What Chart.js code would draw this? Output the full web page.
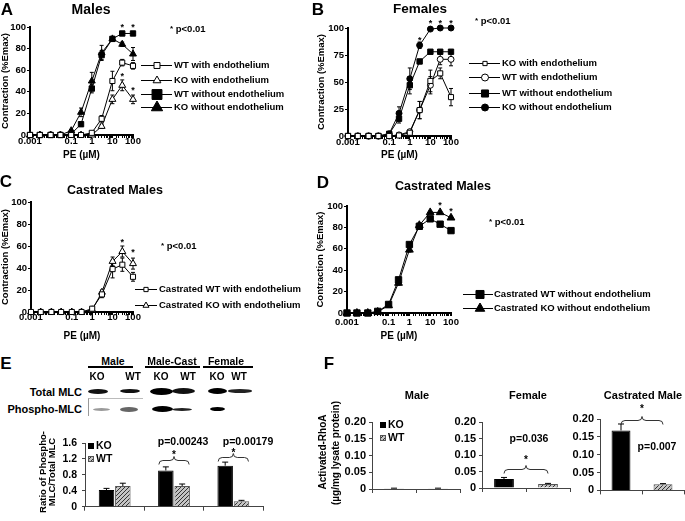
<!DOCTYPE html>
<html>
<head>
<meta charset="utf-8">
<script src="https://cdn.jsdelivr.net/npm/chart.js@4.4.1/dist/chart.umd.min.js"></script>
<style>
html,body{margin:0;padding:0;background:#fff;}
body{position:relative;width:685px;height:521px;overflow:hidden;font-family:"Liberation Sans",Arial,sans-serif;font-weight:bold;color:#000;}
canvas{position:absolute;}
.t{position:absolute;white-space:nowrap;line-height:1;transform:translate(-50%,-50%);}
.l{transform:translate(0,-50%);}
.r{transform:translate(-100%,-50%);}
.vt{transform:translate(-50%,-50%) rotate(-90deg);}
.letter{font-size:17px;}
.band{position:absolute;border-radius:50%;filter:blur(0.6px);}
.rule{position:absolute;height:2px;background:#000;}
.star{font-size:8px;vertical-align:1px;}
</style>
</head>
<body>

<canvas id="cA" width="300" height="165" style="left:0;top:0"></canvas>
<canvas id="cB" width="369" height="165" style="left:316px;top:0"></canvas>
<canvas id="cC" width="320" height="175" style="left:0;top:170px"></canvas>
<canvas id="cD" width="370" height="175" style="left:315px;top:170px"></canvas>
<canvas id="cE" width="275" height="98" style="left:0;top:420px"></canvas>
<canvas id="cF1" width="150" height="120" style="left:315px;top:380px"></canvas>
<canvas id="cF2" width="135" height="120" style="left:440px;top:380px"></canvas>
<canvas id="cF3" width="125" height="120" style="left:560px;top:380px"></canvas>

<div class="t letter" style="left:7px;top:9px">A</div>
<div class="t" style="left:91px;top:9px;font-size:14px">Males</div>
<div class="t letter" style="left:318px;top:9px">B</div>
<div class="t" style="left:420px;top:9px;font-size:13.5px">Females</div>
<div class="t letter" style="left:6px;top:181px">C</div>
<div class="t" style="left:115px;top:190px;font-size:12.5px">Castrated Males</div>
<div class="t letter" style="left:323px;top:182px">D</div>
<div class="t" style="left:443px;top:186px;font-size:12.5px">Castrated Males</div>
<div class="t letter" style="left:6px;top:363px">E</div>
<div class="t letter" style="left:329px;top:363px">F</div>

<div class="t l" style="left:170px;top:29px;font-size:9.5px"><span class="star">*</span> p&lt;0.01</div>
<div class="t l" style="left:475px;top:21px;font-size:9.5px"><span class="star">*</span> p&lt;0.01</div>
<div class="t l" style="left:161px;top:246px;font-size:9.5px"><span class="star">*</span> p&lt;0.01</div>
<div class="t l" style="left:489px;top:222px;font-size:9.5px"><span class="star">*</span> p&lt;0.01</div>

<!-- western blot -->
<div class="t" style="left:113px;top:361px;font-size:10.5px">Male</div>
<div class="t" style="left:172px;top:361px;font-size:10.5px">Male-Cast</div>
<div class="t" style="left:226px;top:361px;font-size:10.5px">Female</div>
<div class="rule" style="left:88px;top:366px;width:45px"></div>
<div class="rule" style="left:145px;top:366px;width:55px"></div>
<div class="rule" style="left:203px;top:366px;width:50px"></div>
<div class="t" style="left:97px;top:377px;font-size:10px">KO</div>
<div class="t" style="left:133px;top:377px;font-size:10px">WT</div>
<div class="t" style="left:161px;top:377px;font-size:10px">KO</div>
<div class="t" style="left:188px;top:377px;font-size:10px">WT</div>
<div class="t" style="left:217px;top:377px;font-size:10px">KO</div>
<div class="t" style="left:239px;top:377px;font-size:10px">WT</div>
<div class="t r" style="left:82px;top:392px;font-size:11px">Total MLC</div>
<div class="t r" style="left:82px;top:409px;font-size:11px">Phospho-MLC</div>
<div id="blot"></div>

<div class="t vt" style="left:43px;top:472px;font-size:9.5px">Ratio of Phospho-</div>
<div class="t vt" style="left:52px;top:472px;font-size:9.5px">MLC/Total MLC</div>
<div class="t" style="left:183px;top:441px;font-size:10.5px">p=0.00243</div>
<div class="t" style="left:248px;top:441px;font-size:10.5px">p=0.00179</div>

<div class="t vt" style="left:323px;top:452px;font-size:10px">Activated-RhoA</div>
<div class="t vt" style="left:336px;top:453px;font-size:10px">(µg/mg lysate protein)</div>
<div class="t" style="left:417px;top:395px;font-size:11px">Male</div>
<div class="t" style="left:528px;top:395px;font-size:11px">Female</div>
<div class="t" style="left:643px;top:395px;font-size:11px">Castrated Male</div>
<div class="t" style="left:529px;top:438px;font-size:10.5px">p=0.036</div>
<div class="t" style="left:657px;top:446px;font-size:10.5px">p=0.007</div>

<script>
// PE doses (µM) and the labelled x ticks
const doses = [0.001, 0.003, 0.01, 0.03, 0.1, 0.3, 1, 3, 10, 30, 100];
const doseTicks = [0.001, 0.1, 1, 10, 100];

// A - males
const aWtWith       = [0, 0, 0, 0, 0, 0, 2, 15, 50, 67, 64];
const aKoWith       = [0, 0, 0, 0, 0, 0, 0, 8, 33, 46, 33];
const aWtWithout    = [0, 0, 0, 0, 1, 10, 43, 74, 89, 94, 94];
const aKoWithout    = [0, 0, 0, 0, 4, 21, 50, 76, 89, 84, 75];
const aWtWithErr    = [0, 0, 0, 0, 0, 0, 1, 3, 9, 3, 3];
const aKoWithErr    = [0, 0, 0, 0, 0, 0, 0, 2, 4, 5, 4];
const aWtWithoutErr = [0, 0, 0, 0, 0, 2, 4, 4, 2, 1, 1];
const aKoWithoutErr = [0, 0, 0, 0, 1, 4, 8, 7, 2, 2, 6];
const aStars = [[30, 101], [100, 101], [30, 56], [100, 43]];

// B - females
const bKoWith       = [0, 0, 0, 0, 0, 0.5, 3, 24, 51, 58, 36];
const bWtWith       = [0, 0, 0, 0, 0, 1, 4, 24, 47, 71, 71];
const bWtWithout    = [0, 0, 0, 0, 2, 16, 47, 69, 78, 78, 78];
const bKoWithout    = [0, 0, 0, 0, 2, 21, 53, 84, 99, 100, 100];
const bKoWithErr    = [0, 0, 0, 0, 0, 0, 2, 8, 10, 5, 8];
const bWtWithErr    = [0, 0, 0, 0, 0, 0, 1, 8, 8, 5, 6];
const bWtWithoutErr = [0, 0, 0, 0, 0, 4, 8, 2, 1, 1, 1];
const bKoWithoutErr = [0, 0, 0, 0, 0, 6, 10, 3, 1, 1, 1];
const bStars = [[3, 90], [10, 106], [30, 106], [100, 106]];

// C - castrated males, with endothelium
const cWtWith    = [0, 0, 0, 0, 0, 0, 3, 16, 39, 43, 32];
const cKoWith    = [0, 0, 0, 0, 0, 0, 2, 18, 46, 55, 44];
const cWtWithErr = [0, 0, 0, 0, 0, 0, 1, 3, 8, 6, 4];
const cKoWithErr = [0, 0, 0, 0, 0, 0, 1, 2, 4, 5, 5];
const cStars = [[30, 65], [100, 56]];

// D - castrated males, without endothelium
const dWtWithout    = [0, 0, 0, 1.5, 8, 31, 64, 81, 88, 83, 77];
const dKoWithout    = [0, 0, 0, 1, 7, 28, 59, 82, 94, 94, 89];
const dWtWithoutErr = [0, 0, 0, 0, 1, 2, 2, 2, 2, 2, 2];
const dKoWithoutErr = [0, 0, 0, 0, 1, 2, 2, 2, 1, 1, 1];
const dStars = [[30, 102], [100, 97]];

// E - phospho-MLC / total MLC
const eGroups = ['Male', 'Male-Cast', 'Female'];
const eKO    = [0.42, 0.91, 1.03];
const eWT    = [0.52, 0.52, 0.14];
const eKOErr = [0.04, 0.09, 0.09];
const eWTErr = [0.07, 0.05, 0.02];

// F - activated RhoA
const fGroups = ['Male', 'Female', 'Castrated Male'];
const fKO    = [0.002, 0.027, 0.168];
const fWT    = [0.002, 0.012, 0.017];
const fKOErr = [0.0005, 0.005, 0.018];
const fWTErr = [0.0005, 0.002, 0.002];

Chart.defaults.font.family = '"Liberation Sans", Arial, sans-serif';
Chart.defaults.font.weight = 'bold';
Chart.defaults.font.size = 10;
Chart.defaults.color = '#000';
Chart.defaults.animation = false;
Chart.defaults.responsive = false;
Chart.defaults.plugins.legend.display = false;
Chart.defaults.plugins.tooltip.enabled = false;

const FONT = '"Liberation Sans", Arial, sans-serif';

function marker(ctx, style, x, y, r, fill) {
  ctx.beginPath();
  if (style === 'rect') {
    const h = r * Math.SQRT1_2;
    ctx.rect(x - h, y - h, 2 * h, 2 * h);
  } else if (style === 'triangle') {
    ctx.moveTo(x, y - r);
    ctx.lineTo(x + r * 0.866, y + r * 0.5);
    ctx.lineTo(x - r * 0.866, y + r * 0.5);
    ctx.closePath();
  } else {
    ctx.arc(x, y, r, 0, Math.PI * 2);
  }
  ctx.fillStyle = fill;
  ctx.fill();
  ctx.strokeStyle = '#000';
  ctx.lineWidth = 1;
  ctx.stroke();
}

function drawErrors(chart, after) {
  const ctx = chart.ctx, ys = chart.scales.y;
  chart.data.datasets.forEach((ds, di) => {
    if (!ds.errors || !!ds.upOnly !== after) return;
    const meta = chart.getDatasetMeta(di);
    ds.errors.forEach((e, i) => {
      const d = ds.data[i];
      const v = d !== null && typeof d === 'object' ? d.y : d;
      if (!e || v === null || v === undefined) return;
      const x = meta.data[i].x;
      const top = ys.getPixelForValue(v + e);
      const bot = after ? ys.getPixelForValue(v) : ys.getPixelForValue(Math.max(v - e, 0));
      const cap = ds.cap || 2;
      ctx.save();
      ctx.strokeStyle = '#000';
      ctx.lineWidth = 1;
      ctx.beginPath();
      ctx.moveTo(x, top); ctx.lineTo(x, bot);
      ctx.moveTo(x - cap, top); ctx.lineTo(x + cap, top);
      if (!after) { ctx.moveTo(x - cap, bot); ctx.lineTo(x + cap, bot); }
      ctx.stroke();
      ctx.restore();
    });
  });
}

const errorBars = {
  id: 'errorBars',
  beforeDatasetsDraw(chart) { drawErrors(chart, false); },
  afterDatasetsDraw(chart) { drawErrors(chart, true); }
};

function starPlugin(points) {
  return {
    id: 'stars',
    afterDatasetsDraw(chart) {
      const ctx = chart.ctx, xs = chart.scales.x, ys = chart.scales.y;
      ctx.save();
      ctx.font = 'bold 9px ' + FONT;
      ctx.textAlign = 'center';
      ctx.textBaseline = 'middle';
      ctx.fillStyle = '#000';
      points.forEach(p => ctx.fillText('*', xs.getPixelForValue(p[0]), ys.getPixelForValue(p[1]) + 2));
      ctx.restore();
    }
  };
}

function linePlugin(lg) {
  return {
    id: 'lineLegend',
    afterDraw(chart) {
      const ctx = chart.ctx;
      ctx.save();
      ctx.font = 'bold 9.5px ' + FONT;
      ctx.textBaseline = 'middle';
      lg.rows.forEach(row => {
        const ds = chart.data.datasets[row.ds];
        const y = row.y + 0.5;
        ctx.strokeStyle = '#000';
        ctx.lineWidth = 1;
        ctx.beginPath(); ctx.moveTo(lg.x1, y); ctx.lineTo(lg.x2, y); ctx.stroke();
        marker(ctx, ds.pointStyle, lg.mx, y, row.r, ds.pointBackgroundColor);
        ctx.fillStyle = '#000';
        ctx.fillText(ds.label, lg.tx, y);
      });
      ctx.restore();
    }
  };
}

function boxLegend(items) {
  return {
    id: 'boxLegend',
    afterDraw(chart) {
      const ctx = chart.ctx;
      ctx.save();
      ctx.font = 'bold 10.5px ' + FONT;
      ctx.textBaseline = 'middle';
      items.forEach(it => {
        const ds = chart.data.datasets[it.ds];
        ctx.fillStyle = ds.backgroundColor;
        ctx.fillRect(it.x, it.y, 6, 6);
        ctx.strokeStyle = ds.borderColor;
        ctx.lineWidth = 1;
        ctx.strokeRect(it.x + 0.5, it.y + 0.5, 5, 5);
        ctx.fillStyle = '#000';
        ctx.fillText(ds.label, it.x + 8, it.y + 3.5);
      });
      ctx.restore();
    }
  };
}

function bracketPlugin(list, pad) {
  return {
    id: 'brackets',
    afterDatasetsDraw(chart) {
      const ctx = chart.ctx, ys = chart.scales.y;
      ctx.save();
      ctx.strokeStyle = '#333';
      ctx.lineWidth = 1;
      ctx.font = 'bold 10px ' + FONT;
      ctx.textAlign = 'center';
      ctx.textBaseline = 'middle';
      ctx.fillStyle = '#000';
      list.forEach(b => {
        const ea = chart.getDatasetMeta(b.a[0]).data[b.a[1]];
        const eb = chart.getDatasetMeta(b.b[0]).data[b.b[1]];
        const x1 = ea.x - pad * ea.width, x2 = eb.x + pad * eb.width;
        const y = Math.round(ys.getPixelForValue(b.y)) + 0.5, xm = (x1 + x2) / 2, h = 4;
        ctx.beginPath();
        ctx.moveTo(x1, y + h);
        ctx.quadraticCurveTo(x1, y, x1 + h, y);
        ctx.lineTo(xm - h, y);
        ctx.quadraticCurveTo(xm, y, xm, y - h);
        ctx.quadraticCurveTo(xm, y, xm + h, y);
        ctx.lineTo(x2 - h, y);
        ctx.quadraticCurveTo(x2, y, x2, y + h);
        ctx.stroke();
        ctx.fillText('*', xm, ys.getPixelForValue(b.star) + 2);
      });
      ctx.restore();
    }
  };
}

function hatch(ctx) {
  const c = document.createElement('canvas');
  c.width = 4; c.height = 4;
  const g = c.getContext('2d');
  g.fillStyle = '#c4c4c4';
  g.fillRect(0, 0, 4, 4);
  g.strokeStyle = '#333';
  g.lineWidth = 1;
  g.beginPath();
  g.moveTo(0, 4); g.lineTo(4, 0);
  g.moveTo(-1, 1); g.lineTo(1, -1);
  g.moveTo(3, 5); g.lineTo(5, 3);
  g.stroke();
  return ctx.createPattern(c, 'repeat');
}

function doseLabel(v) {
  const t = doseTicks.find(t => Math.abs(v - t) / t < 1e-6);
  return t === undefined ? '' : String(t);
}

function doseChart(id, c) {
  return new Chart(document.getElementById(id), {
    type: 'line',
    data: {
      datasets: c.series.map(s => ({
        label: s.label,
        data: doses.map((d, i) => ({ x: d, y: s.values[i] })),
        errors: s.errors,
        borderColor: '#000',
        borderWidth: 1,
        pointStyle: s.style,
        pointRadius: s.r,
        pointBackgroundColor: s.open ? '#fff' : '#000',
        pointBorderColor: '#000',
        pointBorderWidth: 1,
        tension: 0,
        clip: false
      }))
    },
    options: {
      layout: { padding: c.pad },
      scales: {
        x: {
          type: 'logarithmic',
          min: 0.001,
          max: 100,
          afterFit: s => { s.height = c.xh; },
          ticks: { autoSkip: false, maxRotation: 0, padding: c.tp, font: { size: 9.5, lineHeight: 1 }, callback: doseLabel },
          grid: { drawOnChartArea: false, tickLength: 3, color: '#000' },
          border: { color: '#000', width: 2 },
          title: { display: true, text: 'PE (µM)', font: { size: 10 }, padding: { top: 0, bottom: c.titlePad } }
        },
        y: {
          min: 0,
          max: 100,
          afterFit: s => { s.width = c.yw; },
          ticks: { stepSize: c.step, padding: 1, font: { size: 9.5 } },
          grid: { drawOnChartArea: false, tickLength: 3, color: '#000' },
          border: { color: '#000', width: 2 },
          title: { display: true, text: 'Contraction (%Emax)', font: { size: 9.5 }, padding: 0 }
        }
      }
    },
    plugins: [errorBars, starPlugin(c.stars), linePlugin(c.legend)]
  });
}

doseChart('cA', {
  pad: { left: 0, top: 27, right: 167, bottom: 0 }, xh: 30, yw: 30, tp: -1, titlePad: 4, step: 20,
  stars: aStars,
  series: [
    { label: 'WT with endothelium', values: aWtWith, errors: aWtWithErr, style: 'rect', r: 3.6, open: true },
    { label: 'KO with endothelium', values: aKoWith, errors: aKoWithErr, style: 'triangle', r: 4, open: true },
    { label: 'WT without endothelium', values: aWtWithout, errors: aWtWithoutErr, style: 'rect', r: 3.8, open: false },
    { label: 'KO without endothelium', values: aKoWithout, errors: aKoWithoutErr, style: 'triangle', r: 4, open: false }
  ],
  legend: { x1: 141, x2: 172, mx: 157, tx: 174, rows: [
    { ds: 0, y: 65, r: 4.2 }, { ds: 1, y: 80, r: 4.5 }, { ds: 2, y: 94, r: 7 }, { ds: 3, y: 107, r: 6.5 }
  ] }
});

doseChart('cB', {
  pad: { left: 0, top: 28, right: 234, bottom: 0 }, xh: 29, yw: 32, tp: -1, titlePad: 4, step: 25,
  stars: bStars,
  series: [
    { label: 'KO with endothelium', values: bKoWith, errors: bKoWithErr, style: 'rect', r: 3.6, open: true },
    { label: 'WT with endothelium', values: bWtWith, errors: bWtWithErr, style: 'circle', r: 3, open: true },
    { label: 'WT without endothelium', values: bWtWithout, errors: bWtWithoutErr, style: 'rect', r: 3.8, open: false },
    { label: 'KO without endothelium', values: bKoWithout, errors: bKoWithoutErr, style: 'circle', r: 3, open: false }
  ],
  legend: { x1: 153, x2: 184, mx: 169, tx: 186, rows: [
    { ds: 0, y: 63, r: 3 }, { ds: 1, y: 77, r: 3.5 }, { ds: 2, y: 93, r: 5 }, { ds: 3, y: 107, r: 3.5 }
  ] }
});

doseChart('cC', {
  pad: { left: 0, top: 32, right: 187, bottom: 0 }, xh: 33, yw: 31, tp: -2, titlePad: 3, step: 20,
  stars: cStars,
  series: [
    { label: 'Castrated WT with endothelium', values: cWtWith, errors: cWtWithErr, style: 'rect', r: 3.6, open: true },
    { label: 'Castrated KO with endothelium', values: cKoWith, errors: cKoWithErr, style: 'triangle', r: 4, open: true }
  ],
  legend: { x1: 135, x2: 157, mx: 146, tx: 159, rows: [
    { ds: 0, y: 119, r: 3 }, { ds: 1, y: 135, r: 3.5 }
  ] }
});

doseChart('cD', {
  pad: { left: 0, top: 36, right: 234, bottom: 0 }, xh: 32, yw: 32, tp: 2, titlePad: 3, step: 20,
  stars: dStars,
  series: [
    { label: 'Castrated WT without endothelium', values: dWtWithout, errors: dWtWithoutErr, style: 'rect', r: 4.5, open: false },
    { label: 'Castrated KO without endothelium', values: dKoWithout, errors: dKoWithoutErr, style: 'triangle', r: 4.5, open: false }
  ],
  legend: { x1: 148, x2: 178, mx: 165, tx: 179, rows: [
    { ds: 0, y: 124, r: 5.7 }, { ds: 1, y: 138, r: 5.5 }
  ] }
});

// E bar chart
const ctxE = document.getElementById('cE').getContext('2d');
new Chart(ctxE, {
  type: 'bar',
  data: {
    labels: eGroups,
    datasets: [
      { label: 'KO', data: eKO, errors: eKOErr, upOnly: true, cap: 3, backgroundColor: '#000', borderColor: '#000', borderWidth: 1 },
      { label: 'WT', data: eWT, errors: eWTErr, upOnly: true, cap: 3, backgroundColor: hatch(ctxE), borderColor: '#555', borderWidth: 1 }
    ]
  },
  options: {
    layout: { padding: { left: 0, top: 23, right: 12, bottom: 3 } },
    datasets: { bar: { categoryPercentage: 0.55, barPercentage: 0.95 } },
    scales: {
      x: {
        afterFit: s => { s.height = 5; },
        ticks: { display: false },
        grid: { offset: true, drawOnChartArea: false, tickLength: 4, color: '#444' },
        border: { color: '#444', width: 1 }
      },
      y: {
        min: 0,
        max: 1.6,
        afterFit: s => { s.width = 85; },
        ticks: { stepSize: 0.4, padding: 5, font: { size: 10.5 } },
        grid: { drawOnChartArea: false, tickLength: 3, color: '#444' },
        border: { color: '#444', width: 1 }
      }
    }
  },
  plugins: [errorBars, boxLegend([{ ds: 0, x: 88, y: 23 }, { ds: 1, x: 88, y: 36 }]),
    bracketPlugin([{ a: [0, 1], b: [1, 1], y: 1.17, star: 1.33 }, { a: [0, 2], b: [1, 2], y: 1.24, star: 1.4 }], 0.45)]
});

// F bar charts
function rhoChart(id, i, c) {
  const ctx = document.getElementById(id).getContext('2d');
  const plugins = [errorBars];
  if (c.legend) plugins.push(boxLegend(c.legend));
  if (c.bracket) plugins.push(bracketPlugin([c.bracket], 0));
  return new Chart(ctx, {
    type: 'bar',
    data: {
      labels: ['KO', 'WT'],
      datasets: [
        { label: 'KO', data: [fKO[i], null], errors: [fKOErr[i], null], upOnly: true, cap: 3, backgroundColor: '#000', borderColor: '#000', borderWidth: 1 },
        { label: 'WT', data: [null, fWT[i]], errors: [null, fWTErr[i]], upOnly: true, cap: 3, backgroundColor: hatch(ctx), borderColor: '#555', borderWidth: 1 }
      ]
    },
    options: {
      layout: { padding: c.pad },
      datasets: { bar: { grouped: false, categoryPercentage: 1, barPercentage: 0.45 } },
      scales: {
        x: {
          afterFit: s => { s.height = 5; },
          ticks: { display: false },
          grid: { offset: true, drawOnChartArea: false, tickLength: 4, color: '#444' },
          border: { color: '#444', width: 1 }
        },
        y: {
          min: 0,
          max: 0.2,
          afterFit: s => { s.width = c.yw; },
          ticks: { stepSize: 0.05, padding: 3, font: { size: 11 } },
          grid: { drawOnChartArea: false, tickLength: 3, color: '#444' },
          border: { color: '#444', width: 1 }
        }
      }
    },
    plugins: plugins
  });
}

rhoChart('cF1', 0, { yw: 57, pad: { left: 0, top: 42, right: 5, bottom: 6 },
  legend: [{ ds: 0, x: 65, y: 42 }, { ds: 1, x: 65, y: 55 }] });
rhoChart('cF2', 1, { yw: 42, pad: { left: 0, top: 42, right: 5, bottom: 7 },
  bracket: { a: [0, 0], b: [1, 1], y: 0.058, star: 0.09 } });
rhoChart('cF3', 2, { yw: 40, pad: { left: 0, top: 39, right: 1, bottom: 3 },
  bracket: { a: [0, 0], b: [1, 1], y: 0.198, star: 0.232 } });

// blot bands (image-like decoration)
const blot = document.getElementById('blot');
const bands = [
  [88, 108, 391, 5, '#111'], [120, 140, 391, 4, '#111'], [150, 173, 391, 7, '#000'],
  [172, 195, 391, 6, '#111'], [208, 227, 391, 6, '#000'], [228, 252, 391, 3.5, '#222'],
  [93, 110, 409, 3, '#9a9a9a'], [120, 138, 409, 5, '#666'], [152, 173, 409, 6, '#000'],
  [172, 192, 409, 3, '#222'], [210, 225, 409, 4, '#000']
];
bands.forEach(b => {
  const d = document.createElement('div');
  d.className = 'band';
  d.style.left = b[0] + 'px';
  d.style.width = (b[1] - b[0]) + 'px';
  d.style.top = (b[2] - b[3] / 2) + 'px';
  d.style.height = b[3] + 'px';
  d.style.background = b[4];
  blot.appendChild(d);
});
const box = document.createElement('div');
box.style.cssText = 'position:absolute;left:88px;top:398px;width:54px;height:17px;border-left:1px solid #999;border-top:1px solid #bbb;';
blot.appendChild(box);
</script>
</body>
</html>
